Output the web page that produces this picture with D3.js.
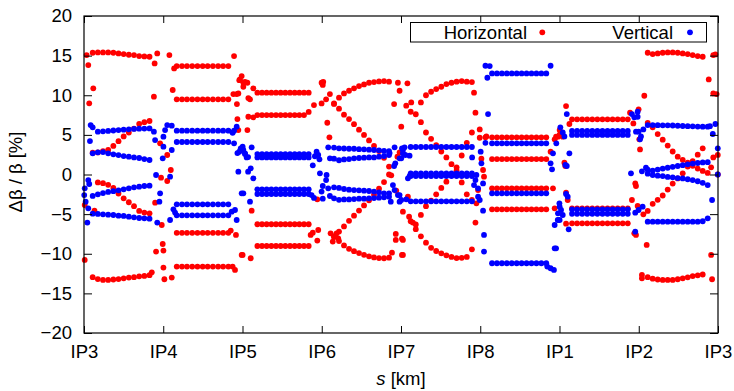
<!DOCTYPE html>
<html>
<head>
<meta charset="utf-8">
<script src="https://cdn.jsdelivr.net/npm/d3@7"></script>
<style>
  body { margin: 0; background: #fff; }
  svg { display: block; font-family: "Liberation Sans", Arial, sans-serif; }
</style>
</head>
<body>
<div id="chart"></div>
<script>
// IP positions along the ring (km)
const ipLabels = ["IP3", "IP4", "IP5", "IP6", "IP7", "IP8", "IP1", "IP2", "IP3"];
const ipPos = [0, 3.332, 6.665, 9.997, 13.329, 16.662, 19.994, 23.327, 26.659];
const yTicks = [-20, -15, -10, -5, 0, 5, 10, 15, 20];
const yMinor = d3.range(-20, 21, 1);

// BPM positions in each arc (km)
const sArc34 = [0.365, 0.582, 0.799, 1.016, 1.234, 1.451, 1.668, 1.885, 2.103, 2.320, 2.537, 2.755];
const sArc45 = [3.90, 4.12, 4.33, 4.55, 4.77, 4.99, 5.20, 5.42, 5.64, 5.85, 6.07];
const sArc56 = [7.289, 7.485, 7.681, 7.878, 8.074, 8.270, 8.466, 8.663, 8.859, 9.055, 9.251, 9.448];
const sArc67 = [10.513, 10.723, 10.933, 11.144, 11.354, 11.564, 11.775, 11.985, 12.195, 12.405, 12.616, 12.826];
const sArc78 = [13.737, 13.951, 14.166, 14.380, 14.595, 14.809, 15.024, 15.238, 15.453, 15.667, 15.882, 16.096, 16.311];
const sArc81 = [17.157, 17.364, 17.572, 17.779, 17.987, 18.194, 18.402, 18.609, 18.817, 19.024, 19.232, 19.439];
const sArc12 = [20.521, 20.734, 20.947, 21.160, 21.373, 21.586, 21.800, 22.013, 22.226, 22.439, 22.652, 22.865];
const sArc23 = [23.703, 23.913, 24.123, 24.334, 24.544, 24.754, 24.965, 25.175, 25.385, 25.595, 25.806, 26.016, 26.226];

// horizontal beta-beat in the arcs (%)
const horizontalArcs = [
  [sArc34, [15.36, 15.4, 15.4, 15.4, 15.36, 15.28, 15.2, 15.11, 15.07, 14.94, 14.9, 14.86]],
  [sArc34, [2.75, 2.79, 2.96, 3.1, 3.6, 4.2, 4.8, 5.3, 5.8, 6.4, 6.6, 6.75]],
  [sArc34, [null, -1.0, -1.1, -1.3, -1.7, -2.4, -3.0, -3.5, -4.0, -4.6, -4.8, -4.9]],
  [sArc34, [-12.95, -13.2, -13.3, -13.3, -13.25, -13.2, -13.1, -13.0, -12.95, -12.85, -12.8, -12.7]],
  [sArc45, [13.68, 13.68, 13.68, 13.68, 13.68, 13.68, 13.68, 13.68, 13.68, 13.68, 13.68]],
  [sArc45, [9.48, 9.48, 9.48, 9.48, 9.48, 9.48, 9.48, 9.48, 9.48, 9.48, 9.48]],
  [sArc45, [-7.36, -7.36, -7.36, -7.36, -7.36, -7.36, -7.36, -7.36, -7.36, -7.36, -7.36]],
  [sArc45, [-11.62, -11.62, -11.62, -11.62, -11.62, -11.62, -11.62, -11.62, -11.62, -11.62, -11.62]],
  [sArc56, [10.32, 10.32, 10.32, 10.32, 10.32, 10.32, 10.32, 10.32, 10.32, 10.32, 10.32, 10.32]],
  [sArc56, [7.5, 7.5, 7.5, 7.5, 7.5, 7.5, 7.5, 7.5, 7.5, 7.5, 7.5, 7.9]],
  [sArc56, [-6.28, -6.28, -6.28, -6.28, -6.28, -6.28, -6.28, -6.28, -6.28, -6.28, -6.28, -6.28]],
  [sArc56, [-9.02, -9.02, -9.02, -9.02, -9.02, -9.02, -9.02, -9.02, -9.02, -9.02, -9.02, -9.02]],
  [sArc67, [8.97, 9.69, 10.23, 10.57, 10.87, 11.16, 11.37, 11.58, 11.66, 11.75, 11.79, 11.71]],
  [sArc67, [8.9, 8.3, 7.55, 7.0, 6.35, 5.65, 5.0, 4.3, 3.6, 2.95, 2.1, 1.0]],
  [sArc67, [-7.9, -7.2, -6.55, -5.85, -5.2, -4.55, -3.9, -3.25, -2.55, -1.8, -0.95, 0.0]],
  [sArc67, [-7.8, -8.4, -8.95, -9.38, -9.68, -9.92, -10.14, -10.32, -10.47, -10.55, -10.57, -10.5]],
  [sArc78, [null, null, 9.1, 10.0, 10.44, 10.78, 11.07, 11.41, 11.58, 11.71, 11.79, 11.71, 11.66]],
  [sArc78, [7.92, 7.6, 6.6, 5.3, 4.5, 3.7, 2.9, 2.15, 1.3, 0.5, -1.0, -2.5, -3.2]],
  [sArc78, [null, -6.3, -5.1, -4.0, -3.3, -2.5, -1.7, -0.9, -0.1, 0.9, 2.4, 4.0, 5.3]],
  [sArc78, [-5.9, -6.9, -7.8, -8.6, -9.25, -9.65, -9.95, -10.2, -10.4, -10.55, -10.52, -10.4, -9.44]],
  [sArc81, [4.69, 4.69, 4.69, 4.69, 4.69, 4.69, 4.69, 4.69, 4.69, 4.69, 4.69, 4.69]],
  [sArc81, [1.95, 1.95, 1.95, 1.95, 1.95, 1.95, 1.95, 1.95, 1.95, 1.95, 1.95, 1.95]],
  [sArc81, [-1.75, -1.75, -1.75, -1.75, -1.75, -1.75, -1.75, -1.75, -1.75, -1.75, -1.75, -1.75]],
  [sArc81, [-4.39, -4.39, -4.39, -4.39, -4.39, -4.39, -4.39, -4.39, -4.39, -4.39, -4.39, -4.39]],
  [sArc12, [6.96, 6.96, 6.96, 6.96, 6.96, 6.96, 6.96, 6.96, 6.96, 6.96, 6.96, 6.96]],
  [sArc12, [-4.27, -4.27, -4.27, -4.27, -4.27, -4.27, -4.27, -4.27, -4.27, -4.27, -4.27, -4.27]],
  [sArc12, [-6.16, -6.16, -6.16, -6.16, -6.16, -6.16, -6.16, -6.16, -6.16, -6.16, -6.16, -6.16]],
  [sArc23, [15.36, 15.2, 15.28, 15.36, 15.4, 15.4, 15.36, 15.28, 15.2, 15.07, 14.94, 14.86, null]],
  [sArc23, [-12.95, -13.15, -13.25, -13.3, -13.3, -13.3, -13.22, -13.1, -12.97, -12.82, -12.72, -12.62, null]],
  [sArc23, [6.5, 5.95, 5.1, 4.4, 3.65, 2.9, 2.25, 1.85, 1.5, 1.1, 0.75, 0.45, 0.2]],
  [sArc23, [-4.6, -3.7, -3.2, -2.65, -1.9, -1.15, -0.5, 0.15, 1.0, 1.7, 2.5, 3.3, null]]
];

// vertical beta-beat in the arcs (%)
const verticalArcs = [
  [sArc34, [5.95, 5.4, 5.45, 5.5, 5.55, 5.6, 5.65, 5.7, 5.75, 5.78, 5.8, 5.82]],
  [sArc34, [2.67, 2.8, 2.83, 2.67, 2.54, 2.45, 2.33, 2.25, 2.16, 2.08, 1.95, 1.83]],
  [sArc34, [-2.7, -2.5, -2.35, -2.2, -2.1, -2.0, -1.87, -1.75, -1.62, -1.54, -1.45, -1.41]],
  [sArc34, [-4.94, -4.98, -5.02, -5.07, -5.11, -5.19, -5.23, -5.32, -5.4, -5.49, -5.53, -5.57]],
  [sArc45, [5.53, 5.53, 5.53, 5.53, 5.53, 5.53, 5.53, 5.53, 5.53, 5.53, 5.53]],
  [sArc45, [4.1, 4.1, 4.1, 4.1, 4.1, 4.1, 4.1, 4.1, 4.1, 4.1, 4.1]],
  [sArc45, [-3.76, -3.76, -3.76, -3.76, -3.76, -3.76, -3.76, -3.76, -3.76, -3.76, -3.76]],
  [sArc45, [-5.15, -5.15, -5.15, -5.15, -5.15, -5.15, -5.15, -5.15, -5.15, -5.15, -5.15]],
  [sArc56, [2.58, 2.58, 2.58, 2.58, 2.58, 2.58, 2.58, 2.58, 2.58, 2.58, 2.58, 2.58]],
  [sArc56, [2.16, 2.16, 2.16, 2.16, 2.16, 2.16, 2.16, 2.16, 2.16, 2.16, 2.16, 2.16]],
  [sArc56, [-1.87, -1.87, -1.87, -1.87, -1.87, -1.87, -1.87, -1.87, -1.87, -1.87, -1.87, -1.87]],
  [sArc56, [-2.46, -2.46, -2.46, -2.46, -2.46, -2.46, -2.46, -2.46, -2.46, -2.46, -2.46, -2.46]],
  [sArc67, [3.4, 3.3, 3.28, 3.25, 3.25, 3.2, 3.18, 3.13, 3.09, 3.05, 2.98, 2.95]],
  [sArc67, [2.0, 1.8, 1.9, 1.95, 2.04, 2.08, 2.12, 2.16, 2.16, 2.25, 2.33, 2.46]],
  [sArc67, [-1.62, -1.7, -1.83, -1.91, -1.96, -2.0, -2.04, -2.08, -2.16, -2.25, -2.38, -2.38]],
  [sArc67, [-3.0, -3.2, -3.14, -3.14, -3.1, -3.05, -3.05, -3.01, -2.97, -2.93, -2.88, -2.8]],
  [sArc78, [3.47, 3.47, 3.47, 3.47, 3.47, 3.47, 3.47, 3.47, 3.47, 3.47, 3.47, 3.47, 3.47]],
  [sArc78, [0.15, 0.15, 0.15, 0.15, 0.15, 0.15, 0.15, 0.15, 0.15, 0.15, 0.15, 0.15, 0.15]],
  [sArc78, [-0.2, -0.2, -0.2, -0.2, -0.2, -0.2, -0.2, -0.2, -0.2, -0.2, -0.2, -0.2, -0.2]],
  [sArc78, [-3.38, -3.38, -3.38, -3.38, -3.38, -3.38, -3.38, -3.38, -3.38, -3.38, -3.38, -3.38, -3.38]],
  [sArc81, [12.76, 12.76, 12.76, 12.76, 12.76, 12.76, 12.76, 12.76, 12.76, 12.76, 12.76, 12.76]],
  [sArc81, [3.93, 3.93, 3.93, 3.93, 3.93, 3.93, 3.93, 3.93, 3.93, 3.93, 3.93, 3.93]],
  [sArc81, [-2.38, -2.38, -2.38, -2.38, -2.38, -2.38, -2.38, -2.38, -2.38, -2.38, -2.38, -2.38]],
  [sArc81, [-11.2, -11.2, -11.2, -11.2, -11.2, -11.2, -11.2, -11.2, -11.2, -11.2, -11.2, -11.2]],
  [sArc12, [5.5, 5.5, 5.5, 5.5, 5.5, 5.5, 5.5, 5.5, 5.5, 5.5, 5.5, 5.5]],
  [sArc12, [5.0, 5.0, 5.0, 5.0, 5.0, 5.0, 5.0, 5.0, 5.0, 5.0, 5.0, 5.0]],
  [sArc12, [-4.4, -4.4, -4.4, -4.4, -4.4, -4.4, -4.4, -4.4, -4.4, -4.4, -4.4, -4.4]],
  [sArc12, [-4.95, -4.95, -4.95, -4.95, -4.95, -4.95, -4.95, -4.95, -4.95, -4.95, -4.95, -4.95]],
  [sArc23, [6.24, 6.24, 6.22, 6.2, 6.2, 6.18, 6.15, 6.12, 6.1, 6.08, 6.05, 6.03, 6.03]],
  [sArc23, [0.6, 0.5, 0.62, 0.75, 0.85, 0.97, 1.07, 1.18, 1.28, 1.38, 1.45, 1.52, 1.55]],
  [sArc23, [0.1, -0.06, -0.15, -0.2, -0.3, -0.36, -0.45, -0.5, -0.6, -0.7, -0.85, -1.05, -1.33]],
  [sArc23, [-5.95, -5.95, -5.95, -5.95, -5.95, -5.95, -5.95, -5.95, -5.95, -5.95, -5.95, -5.9, -5.53]]
];

// points in the insertion regions [s km, %]
const horizontalIR = [
  [0.11, 15.07], [0.18, 13.81], [0.39, 10.87], [0.22, 8.98], [0.03, -10.78], [0.03, -3.85], [0.44, -4.56],
  [2.94, 9.82], [2.97, 14.02], [3.08, 15.28], [3.59, 15.07], [3.73, 10.66], [3.79, 13.39], [3.20, 3.93],
  [3.50, 2.46], [3.65, 0.57], [3.50, -0.82], [3.24, -0.4], [2.99, -3.55], [3.27, -6.37], [3.03, -9.73],
  [3.34, -9.6], [3.31, -8.77], [3.34, -11.75], [3.38, -13.22], [3.69, -13.01], [2.85, -12.34],
  [6.31, 14.94], [6.28, 10.15], [6.42, 10.15], [6.45, 7.0], [6.53, 11.9], [6.56, 12.0], [6.63, 12.42],
  [6.70, 11.58], [6.49, 10.23], [6.17, -7.08], [6.39, -7.63], [6.25, -11.62], [6.35, -12.04], [6.63, -10.15],
  [6.43, 8.89], [6.49, 5.6], [6.91, 9.64], [6.91, 7.29],
  [6.77, 11.7], [6.87, 11.58], [6.70, 11.07], [7.12, 10.87], [6.98, 9.48], [6.87, 5.61], [7.12, 7.21],
  [7.05, -4.56], [6.67, -10.15], [7.01, -10.57],
  [9.67, 8.76], [9.99, 11.58], [10.04, 11.3], [10.06, 11.7], [10.34, 10.15], [10.18, 9.48], [9.99, 8.97],
  [10.23, 6.53], [10.32, 4.69], [9.81, -3.13], [9.53, -7.63], [9.62, -7.34], [9.85, -7.0], [9.81, -8.34],
  [10.37, -7.42], [10.46, -8.47], [10.62, -7.42], [10.69, -8.05],
  [13.20, 11.58], [13.27, 10.57], [13.04, 8.89], [13.34, 6.03], [13.18, 2.25], [12.92, -0.1], [12.95, -9.86],
  [13.37, -10.15], [13.11, -7.5], [13.11, -8.26], [13.37, -8.1], [13.41, -4.69], [13.13, -2.05], [13.27, 2.8],
  [13.60, 11.5], [13.55, 8.68], [13.76, 9.1], [13.62, -2.8], [13.41, -8.26], [13.41, -10.15], [13.67, -5.32],
  [13.83, -6.07],
  [16.40, 10.32], [16.46, 7.8], [16.64, 5.69], [16.64, 4.64], [16.92, 4.8], [16.71, 2.0], [16.78, 0.57],
  [16.82, -0.27], [16.57, -1.96], [16.46, -6.07], [16.50, -3.64], [16.88, 4.69],
  [19.79, 4.44], [19.93, 4.77], [20.04, 5.19], [20.00, 5.61], [19.62, 2.88], [19.72, -1.75], [19.79, -4.27],
  [19.85, 4.77], [19.99, 4.98], [20.10, 5.19], [20.13, 4.77], [20.20, 1.49], [20.24, 1.07], [20.27, -2.29],
  [20.34, -3.22], [20.27, 8.64], [20.41, 6.37], [20.27, -6.2],
  [22.96, 7.8], [23.32, 8.22], [23.56, 9.94], [23.10, 6.45], [23.35, 4.44], [23.38, 3.17], [23.18, -1.12],
  [23.21, -1.45], [23.14, -7.42], [23.21, -7.63], [23.66, -8.89], [23.04, -3.22], [23.28, -3.97],
  [23.52, -5.02], [23.46, -13.1], [23.46, -12.68],
  [26.46, 15.07], [26.27, 12.0], [26.46, 10.23], [26.46, 2.16], [26.37, 0.9], [26.41, -13.22],
  [26.37, -10.15], [26.65, 2.47], [26.65, 0.0], [26.55, 15.15], [26.6, 10.15]
];

const verticalIR = [
  [0.03, -1.75], [0.01, -2.59], [0.07, -3.43], [0.18, -0.7], [0.22, -1.2], [0.14, -6.07], [0.28, 6.24],
  [0.25, 4.22], [0.18, -4.27],
  [2.99, 4.35], [2.94, 5.4], [3.03, -0.06], [3.20, -2.38], [3.17, -3.43], [3.08, -6.07], [3.31, 2.04],
  [3.34, 3.51], [3.34, 4.77], [3.41, 5.61], [3.50, 6.24], [3.69, 6.16], [3.69, 3.09], [3.62, -0.27],
  [3.62, -5.74], [3.76, -4.39], [3.83, -4.8],
  [6.25, 5.27], [6.31, 5.53], [6.31, 3.93], [6.21, -4.69], [6.35, -4.48], [6.42, -5.74], [6.53, 2.88],
  [6.59, 3.3], [6.67, 3.51], [6.49, 0.36], [6.63, -2.38], [6.42, 6.03], [6.45, 2.7], [6.77, 2.6],
  [6.90, 2.2], [6.90, 0.36],
  [6.70, 3.09], [6.77, 2.67], [6.84, 2.16], [7.05, 3.43], [7.01, 0.78], [7.12, -0.48], [6.70, -2.38],
  [6.98, -3.43],
  [9.62, 1.16], [9.78, 2.88], [9.85, 2.46], [9.90, 1.91], [9.92, 0.15], [10.04, -1.45], [10.20, -0.06],
  [10.18, -0.7], [9.99, -2.16], [9.67, -2.96], [10.04, -3.05], [10.27, 3.43], [10.34, 2.04],
  [10.27, -1.75], [10.34, -2.71], [9.71, 2.3], [9.57, -2.6],
  [12.85, 2.7], [13.06, 3.43], [13.09, 1.41], [13.04, 1.07], [13.27, 2.04], [13.37, 3.3], [13.41, 2.67],
  [12.90, -3.43], [12.99, -1.33], [13.06, -1.96], [13.27, -3.43], [13.20, -2.59],
  [13.48, 3.43], [13.41, 3.09], [13.51, 2.46], [13.69, 2.37], [13.34, 2.04], [13.27, -2.59], [13.34, -3.22],
  [13.55, -3.13], [13.62, -0.48], [13.69, -0.2],
  [16.32, 2.16], [16.50, -0.06], [16.46, -0.7], [16.40, -1.33], [16.57, -1.75], [16.57, -2.8], [16.64, -3.22],
  [16.68, 2.88], [16.71, 1.41], [16.78, -1.12], [16.78, -4.56], [16.82, -7.63], [16.82, -9.73],
  [16.88, 13.72], [17.06, 13.68], [16.96, 12.21], [16.99, 7.63], [16.88, 4.0],
  [19.62, 13.72], [19.48, -11.62], [19.62, -11.83], [19.76, -12.04], [19.72, 2.67], [19.62, 1.41],
  [19.68, 0.65], [19.79, -6.37], [19.79, -9.31], [20.00, -4.06], [19.93, -4.9], [20.00, -5.74], [19.86, 3.93],
  [20.30, 7.63], [20.03, 5.95], [20.41, 2.67], [20.24, 1.2], [20.30, 1.07], [20.27, -2.46], [20.34, -2.8],
  [19.99, -3.64], [20.06, -4.48], [20.13, -5.11], [19.92, -5.74], [20.38, -6.92], [19.85, -9.31],
  [20.13, 5.3], [20.20, 4.8],
  [23.04, 7.63], [23.14, 7.21], [23.28, 7.92], [23.28, 7.29], [23.21, 5.4], [23.32, 5.4], [23.00, 0.15],
  [23.18, -4.82], [23.32, -4.48], [23.49, -4.06], [23.18, -7.21], [23.63, 0.86], [23.46, 0.4],
  [23.38, 4.44], [23.52, 5.69], [23.42, 4.8],
  [26.44, 5.11], [26.41, -3.22], [26.65, 3.3], [26.65, 0.0], [26.32, 6.1], [26.55, 6.37]
];

function collect(arcs, ir) {
  const pts = [];
  arcs.forEach(([s, v]) => {
    s.forEach((d, i) => { if (v[i] !== null) pts.push([d, v[i]]); });
  });
  return pts.concat(ir);
}
const horizontal = collect(horizontalArcs, horizontalIR);
const vertical = collect(verticalArcs, verticalIR);

const W = 734, H = 391;
const pLeft = 84, pRight = 718, pTop = 16, pBottom = 333;

const svg = d3.select("#chart").append("svg")
  .attr("width", W).attr("height", H);

const x = d3.scaleLinear().domain([0, 26.659]).range([pLeft, pRight]);
const y = d3.scaleLinear().domain([-20, 20]).range([pBottom, pTop]);

// points
svg.append("g").selectAll("circle")
  .data(horizontal).enter().append("circle")
  .attr("cx", d => x(d[0])).attr("cy", d => y(d[1]))
  .attr("r", 2.9).attr("fill", "#ff0000");

svg.append("g").selectAll("circle")
  .data(vertical).enter().append("circle")
  .attr("cx", d => x(d[0])).attr("cy", d => y(d[1]))
  .attr("r", 2.9).attr("fill", "#0000ff");

const fs = "18.5px";

// axes (gnuplot style, ticks inside)
const gl = svg.append("g").attr("transform", `translate(${pLeft},0)`);
gl.call(d3.axisLeft(y).tickValues(yMinor).tickSize(-4).tickFormat(""));
gl.call(d3.axisLeft(y).tickValues(yTicks).tickSize(-8).tickPadding(12).tickFormat(d3.format("d")));

const gr = svg.append("g").attr("transform", `translate(${pRight},0)`);
gr.call(d3.axisRight(y).tickValues(yMinor).tickSize(-4).tickFormat(""));
gr.call(d3.axisRight(y).tickValues(yTicks).tickSize(-8).tickFormat(""));

const gb = svg.append("g").attr("transform", `translate(0,${pBottom})`);
gb.call(d3.axisBottom(x).tickValues(ipPos).tickSize(-7).tickPadding(12).tickFormat((d, i) => ipLabels[i]));

const gt = svg.append("g").attr("transform", `translate(0,${pTop})`);
gt.call(d3.axisTop(x).tickValues(ipPos).tickSize(-7).tickFormat(""));

svg.selectAll(".domain").remove();
svg.selectAll(".tick line").attr("stroke", "#000").attr("stroke-width", 1);
svg.selectAll(".tick text").attr("font-size", fs).attr("fill", "#000")
  .attr("font-family", "Liberation Sans, Arial, sans-serif");

svg.append("rect")
  .attr("x", pLeft).attr("y", pTop)
  .attr("width", pRight - pLeft).attr("height", pBottom - pTop)
  .attr("fill", "none").attr("stroke", "#000").attr("stroke-width", 1.2);

// axis labels
svg.append("text")
  .attr("transform", `translate(22,172) rotate(-90)`)
  .attr("text-anchor", "middle")
  .attr("font-size", fs)
  .text("Δβ / β [%]");

const xl = svg.append("text")
  .attr("x", 401).attr("y", 385)
  .attr("text-anchor", "middle")
  .attr("font-size", fs);
xl.append("tspan").attr("font-style", "italic").text("s");
xl.append("tspan").text(" [km]");

// legend
const lg = svg.append("g");
lg.append("rect")
  .attr("x", 410.5).attr("y", 22.5).attr("width", 296).attr("height", 19.5)
  .attr("fill", "#fff").attr("stroke", "#000").attr("stroke-width", 1);
lg.append("text").attr("x", 527).attr("y", 38.5).attr("text-anchor", "end")
  .attr("font-size", fs).text("Horizontal");
lg.append("circle").attr("cx", 542.3).attr("cy", 32.3).attr("r", 2.9).attr("fill", "#ff0000");
lg.append("text").attr("x", 673).attr("y", 38.5).attr("text-anchor", "end")
  .attr("font-size", fs).text("Vertical");
lg.append("circle").attr("cx", 690).attr("cy", 32.3).attr("r", 2.9).attr("fill", "#0000ff");
</script>
</body>
</html>
